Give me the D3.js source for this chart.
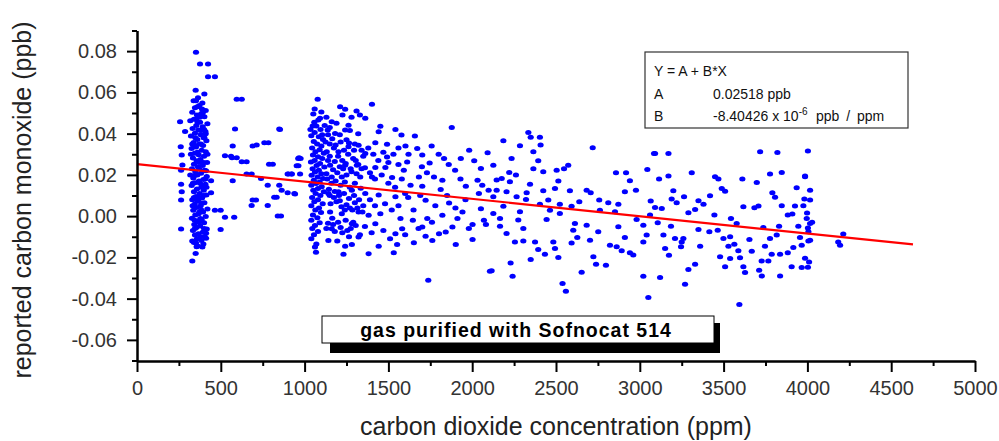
<!DOCTYPE html>
<html>
<head>
<meta http-equiv="Content-type" content="text/html; charset=utf-8">
<title>Carbon monoxide vs carbon dioxide</title>
<style>
body { margin: 0; background: #fff; }
svg { display: block; font-family: "Liberation Sans", Arial, sans-serif; }
.axis path, .axis line { stroke: #000; stroke-width: 2; }
.axis text { fill: #333; font-size: 20px; }
.dot { fill: #0000ff; }
</style>
</head>
<body>
<svg width="999" height="441"></svg>
<script src="https://d3js.org/d3.v7.min.js"></script>
<script>
// ---- data (ppm, ppb) ----
var cluster350 = [
  [352,0.0795],[376,0.0738],[424,0.0738],[424,0.0676],[465,0.0676],[402,0.0592],[350,0.0610],[364,0.0574],
  [338,0.0560],[390,0.0548],[372,0.0536],[346,0.0525],[410,0.0512],[330,0.0504],[384,0.0498],[358,0.0490],
  [402,0.0482],[340,0.0470],[318,0.0462],[376,0.0455],[420,0.0448],[354,0.0440],[392,0.0433],[332,0.0425],
  [366,0.0418],[408,0.0410],[346,0.0402],[380,0.0395],[322,0.0388],[398,0.0380],[360,0.0372],[414,0.0365],
  [338,0.0357],[372,0.0350],[394,0.0342],[352,0.0335],[326,0.0328],[386,0.0320],[410,0.0312],[344,0.0305],
  [368,0.0298],[400,0.0290],[334,0.0282],[378,0.0275],[356,0.0268],[418,0.0260],[340,0.0252],[392,0.0245],
  [364,0.0238],[328,0.0230],[404,0.0222],[348,0.0215],[382,0.0208],[360,0.0200],[416,0.0192],[336,0.0185],
  [396,0.0178],[370,0.0170],[346,0.0162],[408,0.0155],[326,0.0148],[384,0.0140],[358,0.0132],[398,0.0125],
  [340,0.0118],[374,0.0110],[414,0.0102],[352,0.0095],[388,0.0088],[330,0.0080],[366,0.0072],[402,0.0065],
  [344,0.0058],[380,0.0050],[356,0.0042],[420,0.0035],[336,0.0028],[394,0.0020],[368,0.0012],[348,0.0005],
  [410,-0.0002],[328,-0.0010],[386,-0.0018],[360,-0.0025],[400,-0.0032],[342,-0.0040],[376,-0.0048],[354,-0.0055],
  [416,-0.0062],[334,-0.0070],[392,-0.0078],[366,-0.0085],[346,-0.0092],[404,-0.0100],[358,-0.0110],[384,-0.0118],
  [340,-0.0128],[396,-0.0135],[362,-0.0145],[356,-0.0149],[350,-0.0181],[330,-0.0217],[412,-0.0083],[412,-0.0107],
  [372,0.0228],[390,0.0150],[344,0.0342],[382,0.0415],[364,0.0092],[398,0.0260],[352,0.0470],[378,-0.0012],
  [340,0.0195],[420,0.0300],[332,0.0050],[402,0.0380],[360,0.0310],[386,0.0062],[346,-0.0060],[374,0.0480],
  [322,0.0300],[400,0.0420],[388,0.0520],[360,0.0530],[318,0.0200],[408,0.0180],[370,0.0260],[340,0.0090],
  [396,0.0100],[376,0.0160],[330,0.0350],[412,0.0220],[356,0.0080],[384,0.0030],[344,-0.0020],[368,-0.0030],
  [400,-0.0060],[330,-0.0120],[378,-0.0100],[352,-0.0130],[390,-0.0150],[410,0.0400],[362,0.0455],[334,0.0160],
  [348,0.0380],[414,0.0140],[382,0.0350],[392,0.0500],[352,0.0560],[372,0.0020],
  [257,0.0458],[287,0.0410],[261,0.0336],[267,0.0296],[271,0.0248],[263,0.0223],[263,0.0155],[267,0.0118],
  [263,0.0078],[263,-0.0063],[442,0.0171],[442,0.0113],[465,0.0029],[499,0.0029],[525,-0.0006],[499,-0.0065]
];

var gap500to1000 = [
  [595,0.0567],[625,0.0567],[585,0.0422],[849,0.0422],[571,0.0340],[690,0.0340],[714,0.0345],[760,0.0356],
  [784,0.0356],[525,0.0293],[561,0.0290],[567,0.0283],[595,0.0283],[625,0.0264],[654,0.0264],[788,0.0251],
  [810,0.0251],[654,0.0204],[684,0.0204],[571,0.0171],[740,0.0183],[780,0.0150],[849,0.0150],[863,0.0126],
  [899,0.0113],[939,0.0110],[899,0.0204],[923,0.0204],[953,0.0244],[963,0.0244],[967,0.0283],[973,0.0204],
  [690,0.0078],[710,0.0078],[684,0.0052],[780,0.0052],[819,0.0091],[833,0.0091],[580,-0.0006],[840,0.0001],
  [859,0.0001],[853,0.0420],[903,0.0204],[923,0.0204],[943,0.0107],[962,0.0280],[976,0.0280]
];

var band1000to2100 = [
  [1078,0.0567],[1052,0.0495],[1082,0.0466],[1048,0.0437],[1070,0.0437],[1095,0.0420],[1060,0.0405],[1040,0.0390],
  [1085,0.0385],[1110,0.0372],[1055,0.0362],[1075,0.0350],[1100,0.0340],[1045,0.0330],[1090,0.0322],[1065,0.0312],
  [1115,0.0305],[1050,0.0296],[1080,0.0288],[1105,0.0280],[1060,0.0270],[1038,0.0262],[1092,0.0255],[1072,0.0246],
  [1118,0.0238],[1048,0.0230],[1085,0.0222],[1062,0.0214],[1100,0.0206],[1042,0.0198],[1078,0.0190],[1110,0.0182],
  [1055,0.0174],[1090,0.0166],[1068,0.0158],[1040,0.0150],[1102,0.0142],[1080,0.0134],[1052,0.0126],[1115,0.0118],
  [1066,0.0110],[1094,0.0100],[1045,0.0090],[1080,0.0080],[1058,0.0070],[1108,0.0060],[1040,0.0050],[1086,0.0040],
  [1064,0.0030],[1098,0.0018],[1050,0.0005],[1076,-0.0008],[1040,-0.0020],[1090,-0.0032],[1062,-0.0046],[1046,-0.0060],
  [1080,-0.0075],[1056,-0.0090],[1040,-0.0110],[1070,-0.0135],[1062,-0.0150],[1068,-0.0175],
  [1150,0.0350],[1175,0.0330],[1200,0.0290],[1225,0.0270],[1260,0.0300],[1290,0.0280],[1320,0.0250],[1140,0.0270],
  [1170,0.0225],[1195,0.0210],[1230,0.0230],[1250,0.0200],[1280,0.0215],[1310,0.0205],[1340,0.0230],[1135,0.0180],
  [1160,0.0160],[1185,0.0170],[1215,0.0150],[1240,0.0165],[1270,0.0140],[1300,0.0160],[1335,0.0135],[1145,0.0130],
  [1180,0.0120],[1205,0.0100],[1235,0.0110],[1265,0.0085],[1295,0.0100],[1325,0.0080],[1155,0.0060],[1190,0.0070],
  [1220,0.0045],[1250,0.0055],[1285,0.0030],[1315,0.0040],[1345,0.0020],[1165,-0.0010],[1200,-0.0030],[1245,-0.0020],
  [1275,-0.0060],[1305,-0.0045],[1140,-0.0035],[1180,-0.0075],[1225,-0.0080],[1265,-0.0100],[1330,-0.0090],[1195,-0.0120],
  [1150,0.0430],[1210,0.0395],[1250,0.0370],[1300,0.0350],[1340,0.0320],[1130,0.0480],[1190,0.0450],[1270,0.0415],
  [1320,0.0400],[1280,0.0480],[1330,0.0490],[1310,0.0510],
  [1035,0.0420],[1058,0.0455],[1092,0.0475],[1120,0.0440],[1105,0.0395],[1125,0.0360],[1140,0.0395],[1165,0.0375],
  [1185,0.0345],[1215,0.0360],[1235,0.0320],[1265,0.0355],[1295,0.0320],[1350,0.0290],[1380,0.0330],[1410,0.0300],
  [1440,0.0270],[1470,0.0310],[1500,0.0260],[1530,0.0300],[1560,0.0250],[1150,0.0290],[1180,0.0265],[1210,0.0240],
  [1245,0.0255],[1275,0.0230],[1305,0.0270],[1360,0.0235],[1390,0.0210],[1420,0.0180],[1460,0.0200],[1500,0.0160],
  [1540,0.0140],[1580,0.0180],[1130,0.0205],[1150,0.0100],[1175,0.0090],[1210,0.0075],[1240,0.0030],[1270,0.0040],
  [1300,0.0065],[1350,0.0050],[1390,0.0080],[1420,0.0050],[1480,0.0060],[1520,0.0030],[1560,0.0050],[1600,0.0110],
  [1130,-0.0060],[1170,-0.0040],[1215,-0.0055],[1255,-0.0070],[1290,-0.0030],[1360,-0.0050],[1400,-0.0080],[1470,-0.0070],
  [1510,-0.0110],[1600,-0.0090],[1650,0.0030],[1690,0.0100],[1730,0.0210],[1780,0.0050],[1850,0.0100],[1900,0.0040],
  [1960,0.0080],[2040,0.0110],[2070,-0.0020],[1980,-0.0060],[1930,0.0180],[1860,0.0250],[1700,0.0240],[1620,0.0300],
  [1560,0.0330],[1800,0.0300],[2060,0.0150],[1760,-0.0030],[1680,-0.0060],[1060,0.0520],[1100,0.0505],
  [1212,0.0530],[1242,0.0518],[1402,0.0543],[1362,0.0474],[1226,0.0490],[1162,0.0458],[1138,0.0418],[1182,0.0401],
  [1242,0.0417],[1262,0.0441],[1442,0.0409],[1452,0.0436],[1542,0.0420],[1578,0.0393],[1658,0.0388],[1878,0.0430],
  [1422,0.0356],[1492,0.0348],[1602,0.0340],[1672,0.0328],[1758,0.0340],[1982,0.0320],[2092,0.0307],[1262,0.0336],
  [1322,0.0344],[1202,0.0312],[1132,0.0312],[1362,0.0304],[1492,0.0287],[1612,0.0263],[1702,0.0296],[1746,0.0258],
  [1832,0.0279],[1932,0.0279],[2012,0.0268],[1152,0.0247],[1242,0.0247],[1312,0.0247],[1422,0.0236],[1482,0.0236],
  [1592,0.0223],[1682,0.0190],[1772,0.0190],[1898,0.0223],[2052,0.0231],[1162,0.0190],[1222,0.0190],[1332,0.0190],
  [1402,0.0190],[1522,0.0187],[1632,0.0150],[1702,0.0145],[1822,0.0174],[1962,0.0145],[2032,0.0174],[2098,0.0126],
  [1142,0.0110],[1202,0.0118],[1282,0.0126],[1362,0.0110],[1442,0.0102],[1542,0.0094],[1618,0.0090],[1722,0.0077],
  [1812,0.0129],[1862,0.0064],[1942,0.0020],[2052,0.0036],[1152,0.0020],[1222,0.0012],[1322,0.0020],[1382,0.0004],
  [1452,0.0012],[1572,-0.0012],[1646,-0.0020],[1732,-0.0012],[1822,0.0004],[1912,-0.0012],[2002,-0.0040],[2082,-0.0040],
  [1162,-0.0061],[1282,-0.0037],[1422,-0.0037],[1542,-0.0085],[1582,-0.0061],[1702,-0.0053],[1802,-0.0085],[1842,-0.0077],
  [1882,-0.0053],[2002,-0.0113],[1142,-0.0118],[1322,-0.0101],[1722,-0.0098],[1762,-0.0118],[1902,-0.0137],[1242,-0.0146],
  [1282,-0.0137],[1442,-0.0146],[1552,-0.0137],[1652,-0.0129],[1382,-0.0182],[1532,-0.0177],[1232,-0.0185],[1738,-0.0311],
  [2106,-0.0267]
];

var band2100to3100 = [
  [2335,0.0406],[2349,0.0382],[2404,0.0382],[2186,0.0366],[2285,0.0341],[2408,0.0345],[2719,0.0332],[2365,0.0312],
  [2235,0.0280],[2394,0.0269],[2573,0.0247],[2548,0.0230],[2504,0.0223],[2126,0.0247],[2365,0.0230],[2424,0.0215],
  [2858,0.0210],[2918,0.0210],[3045,0.0226],[3085,0.0304],[2221,0.0212],[2261,0.0199],[2146,0.0175],[2176,0.0183],
  [2225,0.0167],[2345,0.0155],[2514,0.0170],[2941,0.0171],[2146,0.0126],[2205,0.0118],[2325,0.0113],[2424,0.0123],
  [2494,0.0134],[2583,0.0123],[2683,0.0126],[2707,0.0113],[2911,0.0118],[2977,0.0126],[2126,0.0094],[2265,0.0094],
  [2321,0.0081],[2454,0.0078],[2639,0.0070],[2758,0.0078],[2812,0.0065],[2872,0.0058],[3065,0.0073],[2186,0.0048],
  [2404,0.0058],[2523,0.0058],[2593,0.0048],[2285,0.0021],[2464,0.0029],[2523,0.0013],[2762,0.0029],[2852,0.0021],
  [2126,0.0013],[2166,-0.0011],[3061,0.0005],[2275,-0.0019],[2444,-0.0016],[2613,-0.0036],[2683,-0.0044],[2981,-0.0016],
  [3021,-0.0044],[2166,-0.0049],[2305,-0.0060],[2603,-0.0068],[2752,-0.0076],[2872,-0.0052],[3041,-0.0092],[2205,-0.0084],
  [2627,-0.0104],[2703,-0.0117],[2911,-0.0104],[2255,-0.0125],[2305,-0.0120],[2375,-0.0125],[2484,-0.0125],[2593,-0.0130],
  [3021,-0.0125],[2822,-0.0141],[2862,-0.0149],[2494,-0.0157],[2892,-0.0168],[2941,-0.0178],[2394,-0.0162],[2434,-0.0185],
  [2961,-0.0189],[2514,-0.0201],[2349,-0.0210],[2723,-0.0197],[2739,-0.0233],[2798,-0.0238],[2229,-0.0227],[2116,-0.0265],
  [2653,-0.0272],[2241,-0.0291],[3021,-0.0291],[2539,-0.0327],[2559,-0.0364],[3051,-0.0395]
];

var band3100to4250 = [
  [3171,0.0304],[3091,0.0304],[3718,0.0312],[3821,0.0309],[3310,0.0210],[3171,0.0194],[3115,0.0180],[3847,0.0212],
  [3777,0.0204],[3986,0.0191],[3449,0.0191],[3469,0.0180],[3612,0.0180],[3698,0.0163],[3489,0.0134],[3509,0.0121],
  [3936,0.0138],[3200,0.0123],[3791,0.0113],[3419,0.0099],[3264,0.0094],[3190,0.0083],[3807,0.0091],[3982,0.0083],
  [3350,0.0074],[3380,0.0058],[3220,0.0065],[3847,0.0050],[3618,0.0045],[3684,0.0041],[3708,0.0049],[3926,0.0049],
  [3976,0.0050],[3091,0.0042],[3131,0.0037],[3290,0.0016],[3330,0.0032],[3445,0.0005],[3544,-0.0011],[3883,0.0005],
  [3910,0.0010],[3996,-0.0011],[4016,-0.0036],[3107,-0.0032],[3186,-0.0049],[3350,-0.0065],[3415,-0.0076],[3465,-0.0068],
  [3578,-0.0036],[3737,-0.0055],[3831,-0.0049],[3946,-0.0049],[4006,-0.0076],[3141,-0.0092],[3210,-0.0108],[3260,-0.0108],
  [3499,-0.0108],[3539,-0.0100],[3654,-0.0113],[3777,-0.0108],[3817,-0.0092],[3956,-0.0104],[4006,-0.0120],[3250,-0.0125],
  [3246,-0.0149],[3360,-0.0146],[3529,-0.0146],[3564,-0.0136],[3588,-0.0168],[3668,-0.0170],[3747,-0.0146],[3787,-0.0185],
  [3837,-0.0185],[3883,-0.0178],[3916,-0.0152],[3966,-0.0141],[3151,-0.0157],[3174,-0.0190],[3479,-0.0197],[3539,-0.0205],
  [3598,-0.0202],[3727,-0.0217],[3767,-0.0217],[4010,-0.0222],[3330,-0.0233],[3509,-0.0246],[3618,-0.0246],[3906,-0.0246],
  [3966,-0.0249],[3290,-0.0259],[3628,-0.0273],[3712,-0.0262],[3728,-0.0290],[3837,-0.0290],[3121,-0.0298],[3270,-0.0330],
  [3594,-0.0429],[4003,0.0316],[3986,0.0194],[4016,0.0126],[4016,0.0078],[3998,0.0015],[4028,-0.0030],[4003,-0.0058],
  [4016,-0.0117],[3986,-0.0204],[4003,-0.0248],[4214,-0.0087],[4184,-0.0125],[4195,-0.0141]
];

// linear fit Y = A + B*X
var fitA = 0.02518;
var fitB = -8.40426e-6;
var fitRange = [0, 4630];

// axis ticks
var xMajor = [0, 500, 1000, 1500, 2000, 2500, 3000, 3500, 4000, 4500, 5000];
var xMinor = [250, 750, 1250, 1750, 2250, 2750, 3250, 3750, 4250, 4750];
var yMajor = [-0.06, -0.04, -0.02, 0.00, 0.02, 0.04, 0.06, 0.08];
var yMinor = [-0.07, -0.05, -0.03, -0.01, 0.01, 0.03, 0.05, 0.07, 0.09];

var svg = d3.select("svg");

var x = d3.scaleLinear().domain([0, 5000]).range([137, 975]);
var y = d3.scaleLinear().domain([-0.07, 0.09]).range([360.5, 30.5]);

var points = cluster350.concat(gap500to1000, band1000to2100, band2100to3100, band3100to4250);

// dots
svg.append("g")
  .selectAll("ellipse")
  .data(points)
  .enter().append("ellipse")
    .attr("class", "dot")
    .attr("cx", function(d) { return x(d[0]); })
    .attr("cy", function(d) { return y(d[1]); })
    .attr("rx", 3.1)
    .attr("ry", 2.5);

// fit line
svg.append("line")
  .attr("x1", x(fitRange[0]))
  .attr("y1", y(fitA + fitB * fitRange[0]))
  .attr("x2", x(fitRange[1]))
  .attr("y2", y(fitA + fitB * fitRange[1]))
  .attr("stroke", "#ff0000")
  .attr("stroke-width", 2.2);

// axes
var fmt = function(d) { return d3.format(".2f")(d).replace("\u2212", "-"); };

svg.append("g")
  .attr("class", "axis")
  .attr("transform", "translate(0,361)")
  .call(d3.axisBottom(x).tickValues(xMajor).tickSize(11).tickSizeOuter(0).tickPadding(9).tickFormat(d3.format("d")));

svg.append("g")
  .attr("class", "axis")
  .attr("transform", "translate(0,361)")
  .call(d3.axisBottom(x).tickValues(xMinor).tickSize(5).tickSizeOuter(0).tickFormat(""));

svg.append("g")
  .attr("class", "axis")
  .attr("transform", "translate(137,0)")
  .call(d3.axisLeft(y).tickValues(yMajor).tickSize(10).tickSizeOuter(0).tickPadding(10).tickFormat(fmt));

svg.append("g")
  .attr("class", "axis")
  .attr("transform", "translate(137,0)")
  .call(d3.axisLeft(y).tickValues(yMinor).tickSize(5).tickSizeOuter(0).tickFormat(""));

svg.selectAll(".axis text").attr("font-family", null).attr("font-size", null);

// axis titles
svg.append("text")
  .attr("x", 556)
  .attr("y", 435)
  .attr("text-anchor", "middle")
  .attr("font-size", 25)
  .attr("fill", "#222")
  .text("carbon dioxide concentration (ppm)");

svg.append("text")
  .attr("transform", "translate(31,200) rotate(-90)")
  .attr("text-anchor", "middle")
  .attr("font-size", 25)
  .attr("fill", "#222")
  .text("reported carbon monoxide (ppb)");

// fit parameters box
var legend = svg.append("g").attr("font-size", 14).attr("fill", "#111");
legend.append("rect")
  .attr("x", 645).attr("y", 52).attr("width", 263).attr("height", 76)
  .attr("fill", "#fff").attr("stroke", "#333").attr("stroke-width", 1.2);
legend.append("text").attr("x", 654).attr("y", 75.5).text("Y = A + B*X");
legend.append("text").attr("x", 654).attr("y", 98.5).text("A");
legend.append("text").attr("x", 713).attr("y", 98.5).text("0.02518 ppb");
legend.append("text").attr("x", 654).attr("y", 120.5).text("B");
var bText = legend.append("text").attr("x", 713).attr("y", 120.5);
bText.append("tspan").text("-8.40426 x 10");
bText.append("tspan").attr("font-size", 10).attr("dy", -6).text("-6");
bText.append("tspan").attr("dy", 6).attr("x", 816).attr("word-spacing", 3).text("ppb / ppm");

// annotation box with drop shadow
var note = svg.append("g");
note.append("rect")
  .attr("x", 330).attr("y", 323).attr("width", 390).attr("height", 30)
  .attr("fill", "#000");
note.append("rect")
  .attr("x", 322).attr("y", 316).attr("width", 392).attr("height", 27)
  .attr("fill", "#fff").attr("stroke", "#000").attr("stroke-width", 1);
note.append("text")
  .attr("x", 516).attr("y", 337)
  .attr("text-anchor", "middle")
  .attr("font-size", 19.5)
  .attr("font-weight", "bold")
  .attr("letter-spacing", 1)
  .attr("fill", "#000")
  .text("gas purified with Sofnocat 514");
</script>
</body>
</html>
